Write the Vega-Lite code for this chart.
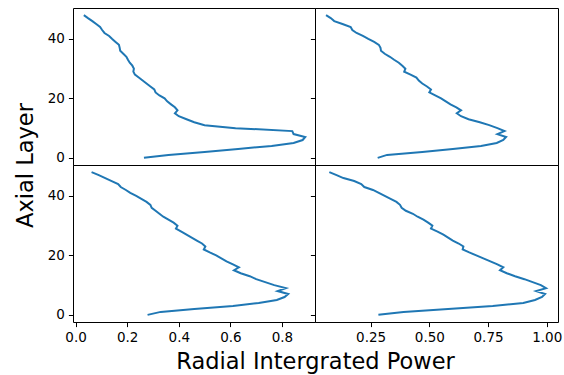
{
  "$schema": "https://vega.github.io/schema/vega-lite/v6.json",
  "autosize": {"type": "pad"},
  "padding": {"left": 13, "top": 7, "right": 4, "bottom": 2},
  "spacing": 0,
  "bounds": "flush",
  "columns": 2,
  "config": {
    "font": "DejaVu Sans",
    "view": {"stroke": "black", "strokeWidth": 1},
    "axis": {
      "domain": false, "grid": false,
      "tickColor": "black", "tickSize": 4.6, "tickWidth": 1,
      "labelColor": "black", "labelFontSize": 13.5, "labelPadding": 4,
      "labelFont": "DejaVu Sans", "labelOverlap": false, "labelFlush": false,
      "titleFont": "DejaVu Sans", "titleFontSize": 22.5, "titleFontWeight": "normal", "titleColor": "black"
    },
    "line": {"color": "#1f77b4", "strokeWidth": 2}
  },
  "datasets": {
    "d": [
      {"panel":"TL","layer":0,"p":0.265},{"panel":"TL","layer":1,"p":0.36},{"panel":"TL","layer":2,"p":0.50},{"panel":"TL","layer":3,"p":0.63},{"panel":"TL","layer":4,"p":0.76},{"panel":"TL","layer":5,"p":0.845},{"panel":"TL","layer":6,"p":0.88},{"panel":"TL","layer":7,"p":0.89},{"panel":"TL","layer":8,"p":0.845},{"panel":"TL","layer":9,"p":0.84},{"panel":"TL","layer":10,"p":0.62},{"panel":"TL","layer":11,"p":0.50},{"panel":"TL","layer":12,"p":0.46},{"panel":"TL","layer":13,"p":0.43},{"panel":"TL","layer":14,"p":0.40},{"panel":"TL","layer":15,"p":0.385},{"panel":"TL","layer":16,"p":0.395},{"panel":"TL","layer":17,"p":0.385},{"panel":"TL","layer":18,"p":0.37},{"panel":"TL","layer":19,"p":0.355},{"panel":"TL","layer":20,"p":0.345},{"panel":"TL","layer":21,"p":0.325},{"panel":"TL","layer":22,"p":0.31},{"panel":"TL","layer":23,"p":0.305},{"panel":"TL","layer":24,"p":0.29},{"panel":"TL","layer":25,"p":0.275},{"panel":"TL","layer":26,"p":0.26},{"panel":"TL","layer":27,"p":0.245},{"panel":"TL","layer":28,"p":0.23},{"panel":"TL","layer":29,"p":0.224},{"panel":"TL","layer":30,"p":0.226},{"panel":"TL","layer":31,"p":0.22},{"panel":"TL","layer":32,"p":0.21},{"panel":"TL","layer":33,"p":0.203},{"panel":"TL","layer":34,"p":0.197},{"panel":"TL","layer":35,"p":0.185},{"panel":"TL","layer":36,"p":0.173},{"panel":"TL","layer":37,"p":0.171},{"panel":"TL","layer":38,"p":0.168},{"panel":"TL","layer":39,"p":0.155},{"panel":"TL","layer":40,"p":0.142},{"panel":"TL","layer":41,"p":0.13},{"panel":"TL","layer":42,"p":0.112},{"panel":"TL","layer":43,"p":0.103},{"panel":"TL","layer":44,"p":0.095},{"panel":"TL","layer":45,"p":0.08},{"panel":"TL","layer":46,"p":0.065},{"panel":"TL","layer":47,"p":0.048},{"panel":"TL","layer":48,"p":0.032},
      {"panel":"TR","layer":0,"p":0.28},{"panel":"TR","layer":1,"p":0.32},{"panel":"TR","layer":2,"p":0.47},{"panel":"TR","layer":3,"p":0.60},{"panel":"TR","layer":4,"p":0.72},{"panel":"TR","layer":5,"p":0.787},{"panel":"TR","layer":6,"p":0.815},{"panel":"TR","layer":7,"p":0.827},{"panel":"TR","layer":8,"p":0.79},{"panel":"TR","layer":9,"p":0.82},{"panel":"TR","layer":10,"p":0.79},{"panel":"TR","layer":11,"p":0.755},{"panel":"TR","layer":12,"p":0.715},{"panel":"TR","layer":13,"p":0.667},{"panel":"TR","layer":14,"p":0.635},{"panel":"TR","layer":15,"p":0.617},{"panel":"TR","layer":16,"p":0.635},{"panel":"TR","layer":17,"p":0.615},{"panel":"TR","layer":18,"p":0.59},{"panel":"TR","layer":19,"p":0.57},{"panel":"TR","layer":20,"p":0.55},{"panel":"TR","layer":21,"p":0.525},{"panel":"TR","layer":22,"p":0.50},{"panel":"TR","layer":23,"p":0.507},{"panel":"TR","layer":24,"p":0.49},{"panel":"TR","layer":25,"p":0.47},{"panel":"TR","layer":26,"p":0.455},{"panel":"TR","layer":27,"p":0.445},{"panel":"TR","layer":28,"p":0.42},{"panel":"TR","layer":29,"p":0.393},{"panel":"TR","layer":30,"p":0.398},{"panel":"TR","layer":31,"p":0.385},{"panel":"TR","layer":32,"p":0.37},{"panel":"TR","layer":33,"p":0.35},{"panel":"TR","layer":34,"p":0.332},{"panel":"TR","layer":35,"p":0.31},{"panel":"TR","layer":36,"p":0.294},{"panel":"TR","layer":37,"p":0.292},{"panel":"TR","layer":38,"p":0.285},{"panel":"TR","layer":39,"p":0.265},{"panel":"TR","layer":40,"p":0.24},{"panel":"TR","layer":41,"p":0.217},{"panel":"TR","layer":42,"p":0.19},{"panel":"TR","layer":43,"p":0.172},{"panel":"TR","layer":44,"p":0.165},{"panel":"TR","layer":45,"p":0.13},{"panel":"TR","layer":46,"p":0.095},{"panel":"TR","layer":47,"p":0.08},{"panel":"TR","layer":48,"p":0.06},
      {"panel":"BL","layer":0,"p":0.279},{"panel":"BL","layer":1,"p":0.33},{"panel":"BL","layer":2,"p":0.46},{"panel":"BL","layer":3,"p":0.61},{"panel":"BL","layer":4,"p":0.71},{"panel":"BL","layer":5,"p":0.78},{"panel":"BL","layer":6,"p":0.81},{"panel":"BL","layer":7,"p":0.824},{"panel":"BL","layer":8,"p":0.783},{"panel":"BL","layer":9,"p":0.815},{"panel":"BL","layer":10,"p":0.77},{"panel":"BL","layer":11,"p":0.735},{"panel":"BL","layer":12,"p":0.70},{"panel":"BL","layer":13,"p":0.675},{"panel":"BL","layer":14,"p":0.64},{"panel":"BL","layer":15,"p":0.614},{"panel":"BL","layer":16,"p":0.633},{"panel":"BL","layer":17,"p":0.61},{"panel":"BL","layer":18,"p":0.585},{"panel":"BL","layer":19,"p":0.565},{"panel":"BL","layer":20,"p":0.545},{"panel":"BL","layer":21,"p":0.52},{"panel":"BL","layer":22,"p":0.497},{"panel":"BL","layer":23,"p":0.503},{"panel":"BL","layer":24,"p":0.49},{"panel":"BL","layer":25,"p":0.47},{"panel":"BL","layer":26,"p":0.45},{"panel":"BL","layer":27,"p":0.43},{"panel":"BL","layer":28,"p":0.41},{"panel":"BL","layer":29,"p":0.389},{"panel":"BL","layer":30,"p":0.395},{"panel":"BL","layer":31,"p":0.38},{"panel":"BL","layer":32,"p":0.36},{"panel":"BL","layer":33,"p":0.34},{"panel":"BL","layer":34,"p":0.325},{"panel":"BL","layer":35,"p":0.31},{"panel":"BL","layer":36,"p":0.295},{"panel":"BL","layer":37,"p":0.29},{"panel":"BL","layer":38,"p":0.275},{"panel":"BL","layer":39,"p":0.255},{"panel":"BL","layer":40,"p":0.235},{"panel":"BL","layer":41,"p":0.212},{"panel":"BL","layer":42,"p":0.195},{"panel":"BL","layer":43,"p":0.175},{"panel":"BL","layer":44,"p":0.165},{"panel":"BL","layer":45,"p":0.14},{"panel":"BL","layer":46,"p":0.115},{"panel":"BL","layer":47,"p":0.09},{"panel":"BL","layer":48,"p":0.062},
      {"panel":"BR","layer":0,"p":0.283},{"panel":"BR","layer":1,"p":0.39},{"panel":"BR","layer":2,"p":0.58},{"panel":"BR","layer":3,"p":0.77},{"panel":"BR","layer":4,"p":0.90},{"panel":"BR","layer":5,"p":0.95},{"panel":"BR","layer":6,"p":0.98},{"panel":"BR","layer":7,"p":0.993},{"panel":"BR","layer":8,"p":0.955},{"panel":"BR","layer":9,"p":0.997},{"panel":"BR","layer":10,"p":0.975},{"panel":"BR","layer":11,"p":0.94},{"panel":"BR","layer":12,"p":0.905},{"panel":"BR","layer":13,"p":0.865},{"panel":"BR","layer":14,"p":0.83},{"panel":"BR","layer":15,"p":0.801},{"panel":"BR","layer":16,"p":0.815},{"panel":"BR","layer":17,"p":0.79},{"panel":"BR","layer":18,"p":0.76},{"panel":"BR","layer":19,"p":0.73},{"panel":"BR","layer":20,"p":0.70},{"panel":"BR","layer":21,"p":0.67},{"panel":"BR","layer":22,"p":0.642},{"panel":"BR","layer":23,"p":0.645},{"panel":"BR","layer":24,"p":0.625},{"panel":"BR","layer":25,"p":0.60},{"panel":"BR","layer":26,"p":0.58},{"panel":"BR","layer":27,"p":0.56},{"panel":"BR","layer":28,"p":0.535},{"panel":"BR","layer":29,"p":0.507},{"panel":"BR","layer":30,"p":0.513},{"panel":"BR","layer":31,"p":0.495},{"panel":"BR","layer":32,"p":0.475},{"panel":"BR","layer":33,"p":0.45},{"panel":"BR","layer":34,"p":0.43},{"panel":"BR","layer":35,"p":0.40},{"panel":"BR","layer":36,"p":0.382},{"panel":"BR","layer":37,"p":0.375},{"panel":"BR","layer":38,"p":0.36},{"panel":"BR","layer":39,"p":0.335},{"panel":"BR","layer":40,"p":0.31},{"panel":"BR","layer":41,"p":0.285},{"panel":"BR","layer":42,"p":0.26},{"panel":"BR","layer":43,"p":0.223},{"panel":"BR","layer":44,"p":0.21},{"panel":"BR","layer":45,"p":0.18},{"panel":"BR","layer":46,"p":0.134},{"panel":"BR","layer":47,"p":0.105},{"panel":"BR","layer":48,"p":0.074}
    ]
  },
  "concat": [
    {
      "width": 242, "height": 157,
      "data": {"name": "d"},
      "transform": [{"filter": "datum.panel === 'TL'"}],
      "mark": {"type": "line"},
      "encoding": {
        "x": {"field": "p", "type": "quantitative", "scale": {"domain": [-0.01, 0.928], "nice": false, "zero": false}, "axis": null},
        "y": {"field": "layer", "type": "quantitative", "scale": {"domain": [-2.4, 50.4], "nice": false, "zero": false},
              "axis": {"values": [0, 20, 40], "title": "Axial Layer", "titleY": 157, "titlePadding": 10}},
        "order": {"field": "layer", "type": "quantitative"}
      }
    },
    {
      "width": 243, "height": 157,
      "data": {"name": "d"},
      "transform": [{"filter": "datum.panel === 'TR'"}],
      "mark": {"type": "line"},
      "encoding": {
        "x": {"field": "p", "type": "quantitative", "scale": {"domain": [0.013, 1.048], "nice": false, "zero": false}, "axis": null},
        "y": {"field": "layer", "type": "quantitative", "scale": {"domain": [-2.4, 50.4], "nice": false, "zero": false},
              "axis": {"values": [0, 20, 40], "labels": false, "title": null}},
        "order": {"field": "layer", "type": "quantitative"}
      }
    },
    {
      "width": 242, "height": 157,
      "data": {"name": "d"},
      "transform": [{"filter": "datum.panel === 'BL'"}],
      "mark": {"type": "line"},
      "encoding": {
        "x": {"field": "p", "type": "quantitative", "scale": {"domain": [-0.01, 0.928], "nice": false, "zero": false},
              "axis": {"values": [0, 0.2, 0.4, 0.6, 0.8], "format": ".1f", "title": "Radial Intergrated Power", "titleX": 242, "titlePadding": 6}},
        "y": {"field": "layer", "type": "quantitative", "scale": {"domain": [-2.4, 50.4], "nice": false, "zero": false},
              "axis": {"values": [0, 20, 40], "title": null}},
        "order": {"field": "layer", "type": "quantitative"}
      }
    },
    {
      "width": 243, "height": 157,
      "data": {"name": "d"},
      "transform": [{"filter": "datum.panel === 'BR'"}],
      "mark": {"type": "line"},
      "encoding": {
        "x": {"field": "p", "type": "quantitative", "scale": {"domain": [0.013, 1.048], "nice": false, "zero": false},
              "axis": {"values": [0.25, 0.5, 0.75, 1.0], "format": ".2f", "title": null}},
        "y": {"field": "layer", "type": "quantitative", "scale": {"domain": [-2.4, 50.4], "nice": false, "zero": false},
              "axis": {"values": [0, 20, 40], "labels": false, "title": null}},
        "order": {"field": "layer", "type": "quantitative"}
      }
    }
  ]
}
